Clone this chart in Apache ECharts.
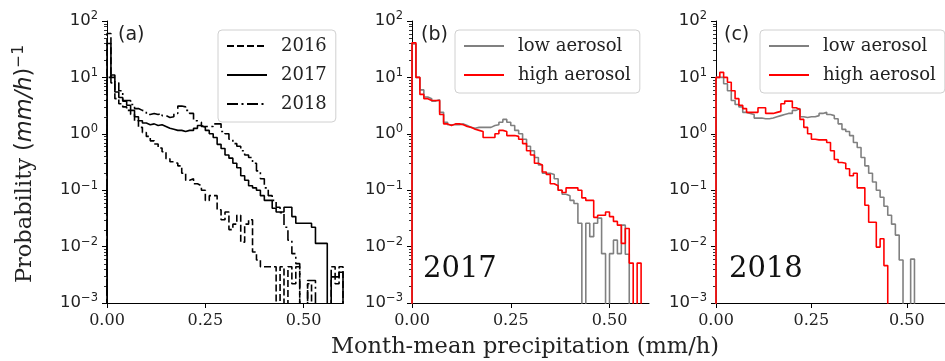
<!DOCTYPE html>
<html>
<head>
<meta charset="utf-8">
<script src="https://cdn.jsdelivr.net/npm/echarts@6/dist/echarts.min.js"></script>
<style>
  html, body { margin: 0; padding: 0; background: #fff; }
  #chart { width: 945px; height: 361px; }
</style>
</head>
<body>
<div id="chart"></div>
<script>
// Histogram of month-mean precipitation, 60 bins of 0.01 mm/h from 0 to 0.6.
// Probability density per bin; 0 means an empty bin.
const p2016 = [60, 8, 4.2, 3.4, 3.0, 2.6, 2.2, 1.7, 1.3, 1.05,
  0.9, 0.75, 0.66, 0.56, 0.48, 0.36, 0.32, 0.3, 0.27, 0.2,
  0.15, 0.16, 0.13, 0.12, 0.1, 0.066, 0.08, 0.08, 0.045, 0.03,
  0.041, 0.02, 0.025, 0.036, 0.012, 0.025, 0.03, 0.008, 0.0058, 0.0044,
  0.0044, 0.0044, 0.0044, 0, 0.0044, 0, 0.0044, 0.0022, 0.0044, 0,
  0, 0.0022, 0, 0, 0, 0, 0, 0.0044, 0.0022, 0.0044];
const p2017 = [40, 10, 5.5, 4.4, 3.8, 3.2, 2.6, 2.0, 1.7, 1.55,
  1.45, 1.5, 1.4, 1.45, 1.35, 1.25, 1.2, 1.15, 1.15, 1.1,
  1.15, 1.15, 1.25, 1.4, 1.3, 1.15, 1.0, 0.86, 0.65, 0.55,
  0.42, 0.37, 0.3, 0.25, 0.18, 0.15, 0.12, 0.11, 0.1, 0.08,
  0.066, 0.066, 0.048, 0.041, 0.041, 0.05, 0.05, 0.034, 0.026, 0.026,
  0.026, 0.026, 0.022, 0.0114, 0.0114, 0.0114, 0, 0.0029, 0.0029, 0.0035];
const p2018 = [10, 11, 8, 5.8, 3.9, 3.9, 3.3, 2.8, 2.6, 2.5,
  2.2, 2.3, 2.2, 2.3, 2.1, 1.95, 2.0, 2.3, 3.1, 3.0,
  2.6, 2.3, 1.7, 1.6, 1.35, 1.35, 1.35, 1.5, 1.5, 1.1,
  1.0, 0.8, 0.67, 0.6, 0.5, 0.42, 0.38, 0.3, 0.22, 0.16,
  0.11, 0.08, 0.066, 0.05, 0.04, 0.022, 0.013, 0.0075, 0.005, 0,
  0, 0.0025, 0.0025, 0, 0, 0, 0, 0, 0, 0];

// 2017 split by aerosol loading
const low2017 = [39, 10, 6.0, 4.5, 4.2, 3.8, 4.0, 2.4, 1.6, 1.45,
  1.45, 1.45, 1.5, 1.4, 1.3, 1.25, 1.3, 1.3, 1.3, 1.3,
  1.4, 1.45, 1.6, 1.8, 1.6, 1.4, 1.15, 1.0, 0.8, 0.6,
  0.5, 0.38, 0.28, 0.2, 0.2, 0.19, 0.16, 0.1, 0.085, 0.08,
  0.066, 0.058, 0.026, 0, 0.026, 0.015, 0.026, 0.032, 0.0075, 0,
  0.0075, 0.013, 0.0075, 0.024, 0.0073, 0, 0, 0, 0, 0];
const high2017 = [41, 10, 5.0, 4.2, 3.9, 3.9, 3.9, 2.2, 1.5, 1.4,
  1.5, 1.5, 1.45, 1.35, 1.3, 1.2, 1.15, 1.1, 0.86, 0.86,
  0.86, 1.0, 1.15, 1.1, 0.93, 0.93, 0.9, 0.8, 0.67, 0.5,
  0.42, 0.3, 0.28, 0.21, 0.19, 0.13, 0.12, 0.1, 0.091, 0.11,
  0.11, 0.11, 0.1, 0.073, 0.066, 0.066, 0.033, 0.036, 0.036, 0.041,
  0.034, 0.028, 0.024, 0.0114, 0.021, 0.0051, 0, 0.0051, 0, 0];

// 2018 split by aerosol loading
const low2018 = [10, 10, 7.7, 5.8, 3.9, 3.3, 3.0, 2.4, 2.3, 2.2,
  1.9, 1.9, 1.85, 1.85, 1.9, 2.0, 2.1, 2.2, 2.3, 2.3,
  2.6, 2.8, 2.0, 1.95, 2.0, 2.0, 2.1, 2.3, 2.4, 2.2,
  2.1, 1.85, 1.5, 1.2, 1.1, 0.93, 0.7, 0.57, 0.38, 0.27,
  0.2, 0.14, 0.1, 0.075, 0.052, 0.036, 0.025, 0.016, 0.0058, 0,
  0, 0.006, 0, 0, 0, 0, 0, 0, 0, 0];
const high2018 = [10, 12.3, 10, 8.2, 5.8, 4.2, 3.2, 2.8, 2.4, 2.4,
  2.4, 2.9, 2.9, 2.3, 2.3, 2.4, 2.5, 3.4, 3.8, 3.8,
  2.9, 2.7, 1.8, 1.3, 1.0, 0.8, 0.78, 0.78, 0.78, 0.7,
  0.5, 0.35, 0.31, 0.3, 0.24, 0.18, 0.2, 0.11, 0.11, 0.054,
  0.027, 0.027, 0.0098, 0.0138, 0.0046, 0, 0, 0, 0, 0,
  0, 0, 0, 0, 0, 0, 0, 0, 0, 0];

const binWidth = 0.01;
const xTicks = [0, 0.25, 0.5];
const yTicks = [1e-3, 1e-2, 1e-1, 1e0, 1e1, 1e2];
const panelLetters = ['(a)', '(b)', '(c)'];
const yearLabels = ['2017', '2018'];
const legendA = ['2016', '2017', '2018'];
const legendBC = ['low aerosol', 'high aerosol'];

// bin edges 0.00 .. 0.60
const binEdges = [];
for (let i = 0; i <= p2016.length; i++) binEdges.push(+(i * binWidth).toFixed(2));

// minor log ticks 2..9 x 10^n
const yMinor = [];
for (let e = -3; e < 2; e++) for (let m = 2; m <= 9; m++) yMinor.push(+(m * Math.pow(10, e)).toPrecision(2));

// below the lowest decade, so empty bins drop off the bottom of the plot
const FLOOR = 1e-5;

// outline of a step histogram: up from the baseline at the first edge, down at the last edge
function stepOutline(vals) {
  const pts = [[binEdges[0], FLOOR]];
  vals.forEach((v, i) => pts.push([binEdges[i], v > 0 ? v : FLOOR]));
  pts.push([binEdges[vals.length], FLOOR]);
  return pts;
}

const SERIF = "'DejaVu Serif', serif";
const SANS = "'DejaVu Sans', sans-serif";

const grids = [
  { left: 107, top: 21, width: 236, height: 282 },
  { left: 412, top: 21, width: 237, height: 282 },
  { left: 716, top: 21, width: 238, height: 282 }
];

function xAxisFor(g) {
  return {
    type: 'value', gridIndex: g, min: 0, max: 0.6,
    axisLine: { show: true, onZero: false, lineStyle: { color: '#000', width: 1 } },
    axisTick: { show: true, customValues: xTicks, length: 5, lineStyle: { color: '#000', width: 1 } },
    axisLabel: {
      customValues: xTicks, margin: 10, color: '#222', fontFamily: SERIF, fontSize: 16,
      formatter: v => v.toFixed(2)
    },
    splitLine: { show: false }
  };
}

function yAxisFor(g) {
  return {
    type: 'log', logBase: 10, gridIndex: g, min: 1e-3, max: 100,
    axisLine: { show: true, lineStyle: { color: '#000', width: 1 } },
    axisTick: { show: true, customValues: yTicks, length: 5, lineStyle: { color: '#000', width: 1 } },
    minorTick: { show: false },
    axisLabel: {
      customValues: yTicks, margin: 9, color: '#222',
      formatter: v => {
        const e = Math.round(Math.log10(v));
        const s = String(e).split('').map(c => c === '-' ? '\u2212' : c).join('');
        return '{b|10}{e|' + s + '}';
      },
      rich: {
        b: { fontFamily: SANS, fontSize: 16.5, lineHeight: 21, color: '#222' },
        e: { fontFamily: SANS, fontSize: 11.5, lineHeight: 12, verticalAlign: 'top', color: '#222' }
      }
    },
    splitLine: { show: false }
  };
}

function minorTicks(g) {
  return {
    type: 'custom', xAxisIndex: g, yAxisIndex: g, silent: true, clip: false,
    data: yMinor.map(v => [0, v]),
    renderItem: (params, api) => {
      const p = api.coord([api.value(0), api.value(1)]);
      const y = Math.round(p[1]) + 0.5;
      return { type: 'line', shape: { x1: p[0] - 3, y1: y, x2: p[0], y2: y },
               style: { stroke: '#000', lineWidth: 0.8 } };
    }
  };
}

function hist(name, vals, g, color, type) {
  return {
    name: name, type: 'line', step: 'end', xAxisIndex: g, yAxisIndex: g,
    data: stepOutline(vals), symbol: 'none', showSymbol: false, clip: true,
    lineStyle: { color: color, width: 1.6, type: type || 'solid' },
    itemStyle: { color: color }
  };
}

function legendAt(left, names) {
  return {
    left: left, top: 30, orient: 'vertical', data: names,
    itemWidth: 40, itemHeight: 14, itemGap: 11,
    padding: [7, 9, 9, 8],
    borderColor: '#d0d0d0', borderWidth: 1, borderRadius: 4,
    backgroundColor: 'rgba(255,255,255,0.8)',
    selectedMode: false,
    itemStyle: { opacity: 0, borderWidth: 0 },
    textStyle: { fontFamily: SERIF, fontSize: 18, lineHeight: 18, color: '#222', padding: [0, 0, 0, 9] }
  };
}

const chart = echarts.init(document.getElementById('chart'), null, { renderer: 'canvas' });
chart.setOption({
  animation: false,
  backgroundColor: '#fff',
  grid: grids,
  xAxis: [xAxisFor(0), xAxisFor(1), xAxisFor(2)],
  yAxis: [yAxisFor(0), yAxisFor(1), yAxisFor(2)],
  legend: [legendAt(218, legendA), legendAt(455, legendBC), legendAt(760, legendBC)],
  series: [
    minorTicks(0), minorTicks(1), minorTicks(2),
    hist('2016', p2016, 0, '#000', [7, 3]),
    hist('2017', p2017, 0, '#000', 'solid'),
    hist('2018', p2018, 0, '#000', [11, 3.5, 2, 3.5]),
    hist('low aerosol', low2017, 1, '#808080'),
    hist('high aerosol', high2017, 1, '#ff0000'),
    hist('low aerosol', low2018, 2, '#808080'),
    hist('high aerosol', high2018, 2, '#ff0000')
  ],
  graphic: [
    { type: 'text', x: 118, y: 35, style: { text: panelLetters[0], font: '19px ' + SANS, fill: '#222', verticalAlign: 'middle' } },
    { type: 'text', x: 421, y: 35, style: { text: panelLetters[1], font: '19px ' + SANS, fill: '#222', verticalAlign: 'middle' } },
    { type: 'text', x: 724, y: 35, style: { text: panelLetters[2], font: '19px ' + SANS, fill: '#222', verticalAlign: 'middle' } },
    { type: 'text', x: 423, y: 269, style: { text: yearLabels[0], font: '29px ' + SERIF, fill: '#111', verticalAlign: 'middle' } },
    { type: 'text', x: 729, y: 269, style: { text: yearLabels[1], font: '29px ' + SERIF, fill: '#111', verticalAlign: 'middle' } },
    { type: 'text', x: 525, y: 347, style: { text: 'Month-mean precipitation (mm/h)', font: '22.5px ' + SERIF, fill: '#222', align: 'center', verticalAlign: 'middle' } },
    {
      type: 'text', x: 25, y: 164, rotation: Math.PI / 2,
      style: {
        text: '{s|Probability }{m|(}{i|mm/h}{m|)}{sup|\u22121}',
        align: 'center', verticalAlign: 'middle',
        rich: {
          s: { fontFamily: SERIF, fontSize: 22.5, lineHeight: 28, fill: '#222' },
          m: { fontFamily: SANS, fontSize: 22.5, lineHeight: 28, fill: '#222' },
          i: { fontFamily: SANS, fontSize: 22.5, fontStyle: 'italic', lineHeight: 28, fill: '#222' },
          sup: { fontFamily: SANS, fontSize: 15.5, lineHeight: 15, verticalAlign: 'top', fill: '#222' }
        }
      }
    }
  ]
});
</script>
</body>
</html>
